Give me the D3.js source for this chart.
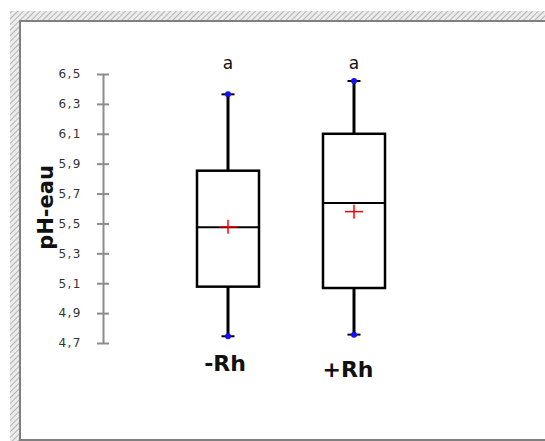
<!DOCTYPE html>
<html>
<head>
<meta charset="utf-8">
<script src="https://cdn.jsdelivr.net/npm/d3@7"></script>
<style>
  html, body { margin: 0; padding: 0; background: #fff; }
  svg { display: block; }
</style>
</head>
<body>
<svg id="chart" width="545" height="441"></svg>
<script>
// données
const groups = ["-Rh", "+Rh"];
const minVals = [4.745, 4.756];
const q1Vals = [5.077, 5.068];
const medianVals = [5.474, 5.637];
const q3Vals = [5.853, 6.1];
const maxVals = [6.364, 6.453];
const meanVals = [5.478, 5.579];
const letters = ["a", "a"];
const tickValues = [4.7, 4.9, 5.1, 5.3, 5.5, 5.7, 5.9, 6.1, 6.3, 6.5];

const svg = d3.select("#chart");
const width = 545, height = 441;

// fond hachuré du cadre
const defs = svg.append("defs");
const pat = defs.append("pattern")
  .attr("id", "hatch")
  .attr("patternUnits", "userSpaceOnUse")
  .attr("width", 4).attr("height", 4)
  .attr("patternTransform", "rotate(45)");
pat.append("rect").attr("width", 4).attr("height", 4).attr("fill", "#ececec");
pat.append("line")
  .attr("x1", 0).attr("y1", 0).attr("x2", 0).attr("y2", 4)
  .attr("stroke", "#b4b4b4").attr("stroke-width", 2);

svg.append("rect")
  .attr("x", 10).attr("y", 11)
  .attr("width", width - 10).attr("height", height - 11)
  .attr("fill", "url(#hatch)");

svg.append("rect")
  .attr("x", 20).attr("y", 21)
  .attr("width", width + 10).attr("height", 419)
  .attr("fill", "#fff")
  .attr("stroke", "#808080")
  .attr("stroke-width", 2);

const y = d3.scaleLinear().domain([4.7, 6.5]).range([343, 74]);
const x = d3.scalePoint().domain(groups).range([228, 354]);

const boxW = 62;
const capW = 13;

// axe Y
const fmt = (d) => d3.format(".1f")(d).replace(".", ",");
const yAxis = svg.append("g")
  .attr("transform", "translate(103,0)")
  .call(d3.axisLeft(y).tickValues(tickValues).tickFormat(fmt).tickSize(0).tickPadding(21));
yAxis.select(".domain").attr("stroke", "#8c8c8c").attr("stroke-width", 2);
yAxis.selectAll(".tick line").remove();
yAxis.selectAll(".tick")
  .append("line")
  .attr("x1", -6).attr("x2", 6)
  .attr("stroke", "#8c8c8c").attr("stroke-width", 2);
yAxis.selectAll(".tick text")
  .attr("font-family", "DejaVu Sans, Verdana, sans-serif")
  .attr("font-size", 12)
  .attr("letter-spacing", 1.5)
  .attr("fill", "#333");

svg.append("text")
  .attr("transform", `translate(53,${(y(6.5) + y(4.7)) / 2 - 1}) rotate(-90)`)
  .attr("text-anchor", "middle")
  .attr("font-family", "DejaVu Sans, Verdana, sans-serif")
  .attr("font-weight", "bold")
  .attr("font-size", 21)
  .attr("fill", "#111")
  .text("pH-eau");

const boxes = svg.append("g")
  .selectAll("g")
  .data(groups)
  .join("g");

// moustaches
boxes.append("line")
  .attr("x1", (d) => x(d)).attr("x2", (d) => x(d))
  .attr("y1", (d, i) => y(maxVals[i])).attr("y2", (d, i) => y(q3Vals[i]))
  .attr("stroke", "#000").attr("stroke-width", 3);
boxes.append("line")
  .attr("x1", (d) => x(d)).attr("x2", (d) => x(d))
  .attr("y1", (d, i) => y(q1Vals[i])).attr("y2", (d, i) => y(minVals[i]))
  .attr("stroke", "#000").attr("stroke-width", 3);

// boîtes
boxes.append("rect")
  .attr("x", (d) => x(d) - boxW / 2)
  .attr("y", (d, i) => y(q3Vals[i]))
  .attr("width", boxW)
  .attr("height", (d, i) => y(q1Vals[i]) - y(q3Vals[i]))
  .attr("fill", "#fff")
  .attr("stroke", "#000").attr("stroke-width", 2.5);

boxes.append("line")
  .attr("x1", (d) => x(d) - boxW / 2).attr("x2", (d) => x(d) + boxW / 2)
  .attr("y1", (d, i) => y(medianVals[i])).attr("y2", (d, i) => y(medianVals[i]))
  .attr("stroke", "#000").attr("stroke-width", 2);

// extrémités
[minVals, maxVals].forEach((arr) => {
  boxes.append("line")
    .attr("x1", (d) => x(d) - capW / 2).attr("x2", (d) => x(d) + capW / 2)
    .attr("y1", (d, i) => y(arr[i])).attr("y2", (d, i) => y(arr[i]))
    .attr("stroke", "#000").attr("stroke-width", 2);
  boxes.append("circle")
    .attr("cx", (d) => x(d))
    .attr("cy", (d, i) => y(arr[i]))
    .attr("r", 3)
    .attr("fill", "#1010ff");
});

// moyenne
boxes.append("line")
  .attr("x1", (d) => x(d) - 9).attr("x2", (d) => x(d) + 9)
  .attr("y1", (d, i) => y(meanVals[i])).attr("y2", (d, i) => y(meanVals[i]))
  .attr("stroke", "#ff0000").attr("stroke-width", 1.5);
boxes.append("line")
  .attr("x1", (d) => x(d)).attr("x2", (d) => x(d))
  .attr("y1", (d, i) => y(meanVals[i]) - 7).attr("y2", (d, i) => y(meanVals[i]) + 7)
  .attr("stroke", "#ff0000").attr("stroke-width", 1.5);

// lettres
boxes.append("text")
  .attr("x", (d) => x(d))
  .attr("y", 69)
  .attr("text-anchor", "middle")
  .attr("font-family", "DejaVu Sans, Verdana, sans-serif")
  .attr("font-size", 17)
  .attr("fill", "#111")
  .text((d, i) => letters[i]);

// étiquettes des groupes
const labelShift = [[-3, 0], [-6, 6]];
boxes.append("text")
  .attr("x", (d, i) => x(d) + labelShift[i][0])
  .attr("y", (d, i) => 371 + labelShift[i][1])
  .attr("text-anchor", "middle")
  .attr("font-family", "DejaVu Sans, Verdana, sans-serif")
  .attr("font-weight", "bold")
  .attr("font-size", 22)
  .attr("fill", "#111")
  .text((d) => d);
</script>
</body>
</html>
